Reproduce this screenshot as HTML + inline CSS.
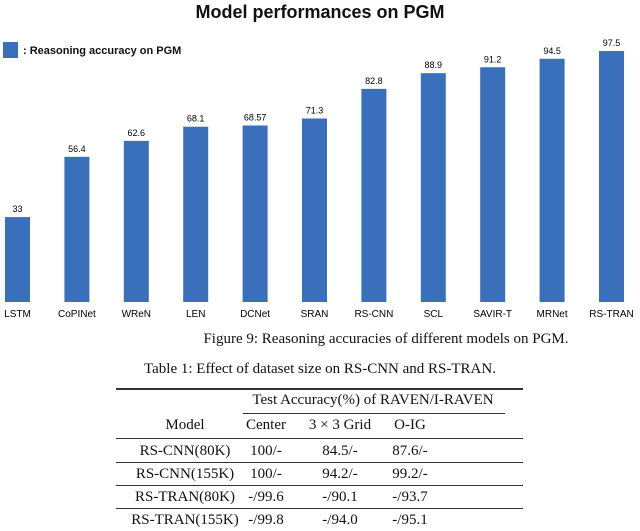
<!DOCTYPE html>
<html><head><meta charset="utf-8"><style>
body{margin:0;width:640px;height:531px;background:#fff;position:relative;overflow:hidden}
.t{position:absolute;font-family:"Liberation Serif",serif;font-size:15px;color:#111;white-space:nowrap;transform:translateX(-50%)}
.r{position:absolute;background:#333}
</style></head><body>
<svg width="640" height="325" style="position:absolute;left:0;top:0" id="chart">
<text x="320" y="18" text-anchor="middle" font-family="Liberation Sans, sans-serif" font-weight="bold" font-size="18" fill="#111">Model performances on PGM</text>
<rect x="3" y="42" width="15" height="16" fill="#3a6fbb"/>
<text x="23" y="54" font-family="Liberation Sans, sans-serif" font-weight="bold" font-size="11" fill="#111">: Reasoning accuracy on PGM</text>
</svg>
<div class="t" style="left:386px;top:331px">Figure 9: Reasoning accuracies of different models on PGM.</div>
<div class="t" style="left:320px;top:361px">Table 1: Effect of dataset size on RS-CNN and RS-TRAN.</div>
<div>
<div class="r" style="left:116px;top:388px;width:407px;height:1.5px"></div>
<div class="r" style="left:243px;top:413px;width:262px;height:1px"></div>
<div class="r" style="left:116px;top:438px;width:407px;height:1px"></div>
<div class="r" style="left:116px;top:462px;width:407px;height:1px"></div>
<div class="r" style="left:116px;top:485px;width:407px;height:1px"></div>
<div class="r" style="left:116px;top:508px;width:407px;height:1px"></div>
<div class="t" style="left:373px;top:392px">Test Accuracy(%) of RAVEN/I-RAVEN</div>
<div class="t" style="left:185px;top:417px">Model</div>
<div class="t" style="left:266px;top:417px">Center</div>
<div class="t" style="left:340px;top:417px">3 × 3 Grid</div>
<div class="t" style="left:410px;top:417px">O-IG</div>
<div class="t" style="left:185px;top:443px">RS-CNN(80K)</div><div class="t" style="left:266px;top:443px">100/-</div><div class="t" style="left:340px;top:443px">84.5/-</div><div class="t" style="left:410px;top:443px">87.6/-</div>
<div class="t" style="left:185px;top:466px">RS-CNN(155K)</div><div class="t" style="left:266px;top:466px">100/-</div><div class="t" style="left:340px;top:466px">94.2/-</div><div class="t" style="left:410px;top:466px">99.2/-</div>
<div class="t" style="left:185px;top:489px">RS-TRAN(80K)</div><div class="t" style="left:266px;top:489px">-/99.6</div><div class="t" style="left:340px;top:489px">-/90.1</div><div class="t" style="left:410px;top:489px">-/93.7</div>
<div class="t" style="left:185px;top:512px">RS-TRAN(155K)</div><div class="t" style="left:266px;top:512px">-/99.8</div><div class="t" style="left:340px;top:512px">-/94.0</div><div class="t" style="left:410px;top:512px">-/95.1</div>
</div>
<script>
const categories=["LSTM","CoPINet","WReN","LEN","DCNet","SRAN","RS-CNN","SCL","SAVIR-T","MRNet","RS-TRAN"];
const values=[33,56.4,62.6,68.1,68.57,71.3,82.8,88.9,91.2,94.5,97.5];
const labels=["33","56.4","62.6","68.1","68.57","71.3","82.8","88.9","91.2","94.5","97.5"];
const svg=document.getElementById('chart');const NS="http://www.w3.org/2000/svg";
const x=i=>17.5+i*59.4; const y=v=>302-v*2.574; const bw=25;
categories.forEach((c,i)=>{
 const r=document.createElementNS(NS,'rect');
 
 
 r.setAttribute('x',x(i)-bw/2);r.setAttribute('y',y(values[i]));r.setAttribute('width',bw);r.setAttribute('height',302-y(values[i]));r.setAttribute('fill','#3a6fbb');svg.appendChild(r);
 const t=document.createElementNS(NS,'text');
 
 
 t.setAttribute('x',x(i));t.setAttribute('y',y(values[i])-5);t.setAttribute('text-anchor','middle');t.setAttribute('font-family','Liberation Sans, sans-serif');t.setAttribute('font-size','9');t.textContent=labels[i];svg.appendChild(t);
 const l=document.createElementNS(NS,'text');
 
 
 l.setAttribute('x',x(i));l.setAttribute('y',317);l.setAttribute('text-anchor','middle');l.setAttribute('font-family','Liberation Sans, sans-serif');l.setAttribute('font-size','10');l.textContent=c;svg.appendChild(l);
});
</script>
</body></html>
